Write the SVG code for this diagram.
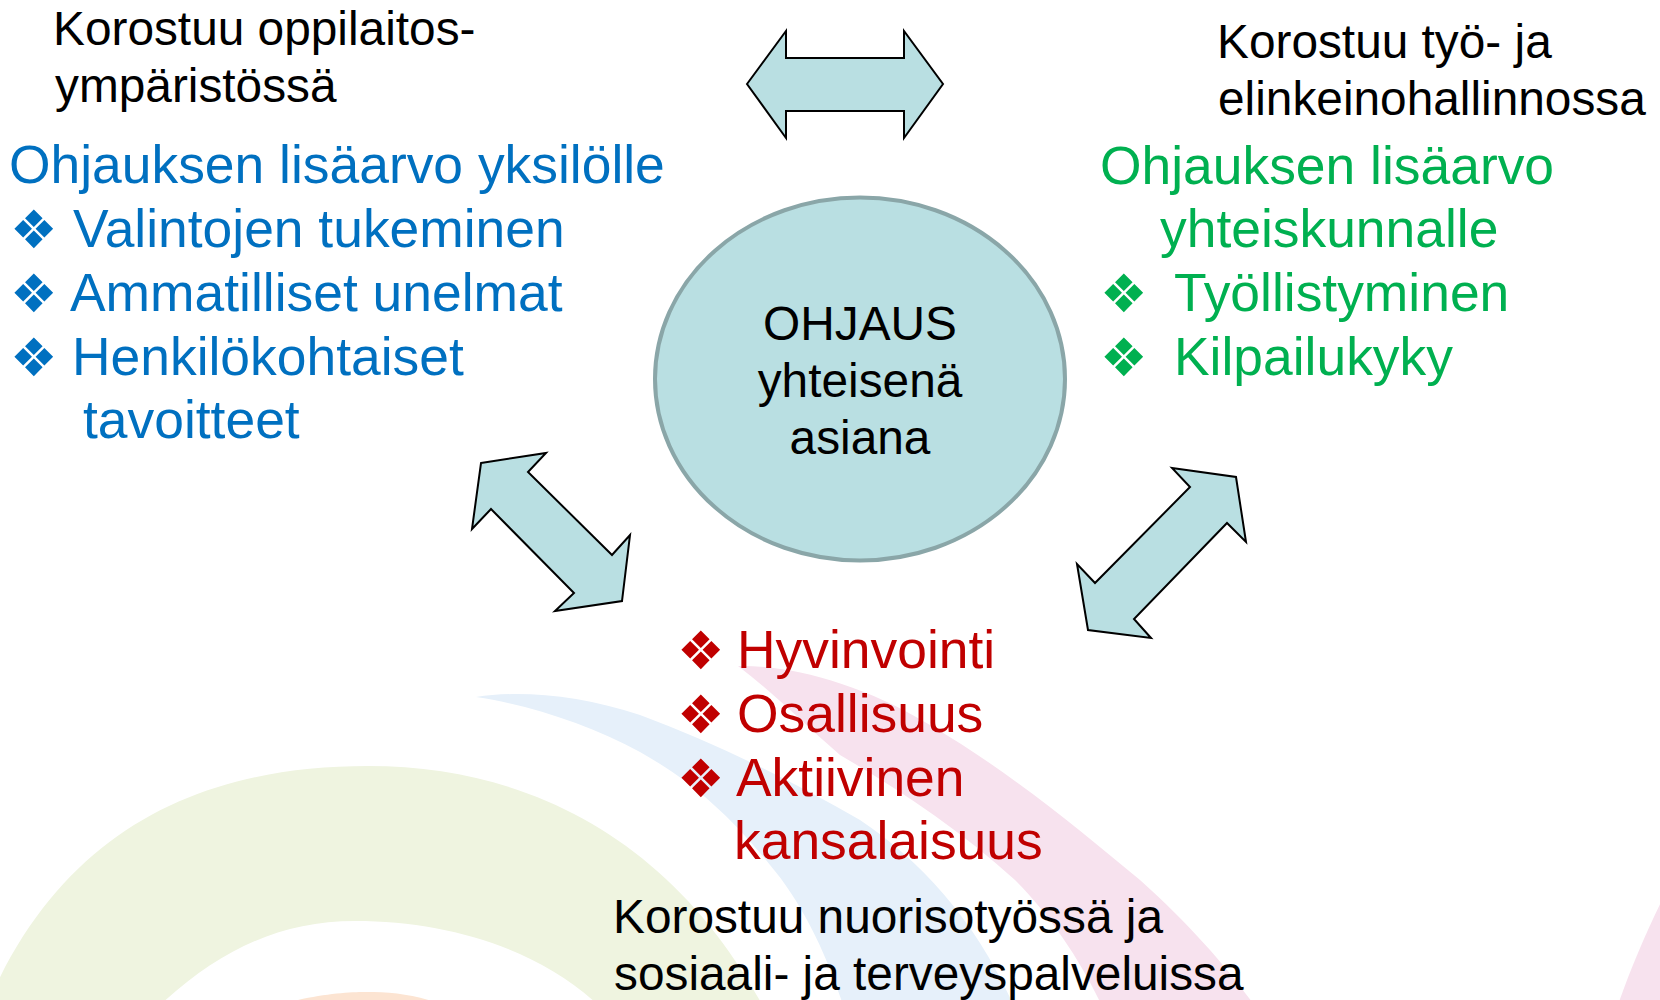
<svg xmlns="http://www.w3.org/2000/svg" width="1660" height="1000" viewBox="0 0 1660 1000">
<style>
text{font-family:"Liberation Sans",Arial,sans-serif}
.k{fill:#000;font-size:47.8px}
.b{fill:#0070C0;font-size:53.4px}
.g{fill:#00B050;font-size:53.4px}
.r{fill:#C00000;font-size:53.4px}
.bul{font-family:"DejaVu Sans",sans-serif;font-size:53px}
.arr{fill:#B9DFE2;stroke:#000;stroke-width:2;stroke-linejoin:miter}
</style>
<rect width="1660" height="1000" fill="#fff"/>
<g id="background">
<path fill="#EFF4E0" fill-rule="evenodd" d="M -15,1010 C 60,830 200,766 368,766 C 540,766 680,850 765,1010 Z M 160,1005 C 220,950 280,921 355,921 C 450,921 540,950 598,1005 Z"/>
<path fill="#FCE4D2" d="M 290,1002 C 320,994 350,992 365,992 C 390,992 410,994 435,1002 Z"/>
<path fill="#E6F0FA" d="M 476,697 C 520,690 580,695 640,715 C 720,745 790,780 860,820 C 920,860 975,920 1012,1002 L 842,1002 C 825,950 800,900 770,865 C 730,815 690,780 640,752 C 590,725 530,705 476,697 Z"/>
<path fill="#F7E2EE" d="M 738,666 C 790,665 860,683 930,725 C 1010,772 1080,830 1140,880 C 1190,925 1225,965 1252,1002 L 1100,1002 C 1080,960 1050,915 1015,880 C 960,830 900,790 840,755 C 800,720 770,690 738,666 Z"/>
<path fill="#F7E2EE" d="M 1619,1002 C 1630,970 1645,935 1662,900 L 1662,1002 Z"/>
</g>
<g id="connectors">
<polygon id="arrow-top" class="arr" points="747,84 786,31 786,58 904,58 904,31 943,84 904,138 904,111 786,111 786,138"/>
<polygon id="arrow-left" class="arr" points="481,463 546,453 528,472 612,555 630,535 622,601 555,611 574,593 491,509 472,529"/>
<polygon id="arrow-right" class="arr" points="1172,468 1236,477 1246,542 1227,523 1134,619 1151,638 1088,630 1077,564 1095,583 1190,487"/>
</g>
<g id="node-center">
<ellipse cx="860" cy="379" rx="205" ry="181.5" fill="#B9DFE2" stroke="#8AA6A8" stroke-width="4"/>
<text class="k" x="860" y="340" text-anchor="middle">OHJAUS</text>
<text class="k" x="860" y="397" text-anchor="middle">yhteisenä</text>
<text class="k" x="860" y="454" text-anchor="middle">asiana</text>
</g>
<g id="label-top-left">
<text class="k" x="53" y="45">Korostuu oppilaitos-</text>
<text class="k" x="55" y="102">ympäristössä</text>
</g>
<g id="label-top-right">
<text class="k" x="1217" y="58">Korostuu työ- ja</text>
<text class="k" x="1218" y="115">elinkeinohallinnossa</text>
</g>
<g id="label-bottom">
<text class="k" x="613" y="933">Korostuu nuorisotyössä ja</text>
<text class="k" x="614" y="990">sosiaali- ja terveyspalveluissa</text>
</g>
<g id="node-individual">
<text class="b" x="9" y="183">Ohjauksen lisäarvo yksilölle</text>
<text class="bul" fill="#0070C0" x="10" y="248">❖</text>
<text class="b" x="73" y="247">Valintojen tukeminen</text>
<text class="bul" fill="#0070C0" x="10" y="312">❖</text>
<text class="b" x="70" y="311">Ammatilliset unelmat</text>
<text class="bul" fill="#0070C0" x="10" y="376">❖</text>
<text class="b" x="72" y="375">Henkilökohtaiset</text>
<text class="b" x="83" y="438">tavoitteet</text>
</g>
<g id="node-society">
<text class="g" x="1100" y="184">Ohjauksen lisäarvo</text>
<text class="g" x="1160" y="247">yhteiskunnalle</text>
<text class="bul" fill="#00B050" x="1100" y="312">❖</text>
<text class="g" x="1174" y="311">Työllistyminen</text>
<text class="bul" fill="#00B050" x="1100" y="376">❖</text>
<text class="g" x="1174" y="375">Kilpailukyky</text>
</g>
<g id="node-citizen">
<text class="bul" fill="#C00000" x="677" y="669">❖</text>
<text class="r" x="737" y="668">Hyvinvointi</text>
<text class="bul" fill="#C00000" x="677" y="733">❖</text>
<text class="r" x="737" y="732">Osallisuus</text>
<text class="bul" fill="#C00000" x="677" y="797">❖</text>
<text class="r" x="736" y="796">Aktiivinen</text>
<text class="r" x="734" y="859">kansalaisuus</text>
</g>
</svg>
